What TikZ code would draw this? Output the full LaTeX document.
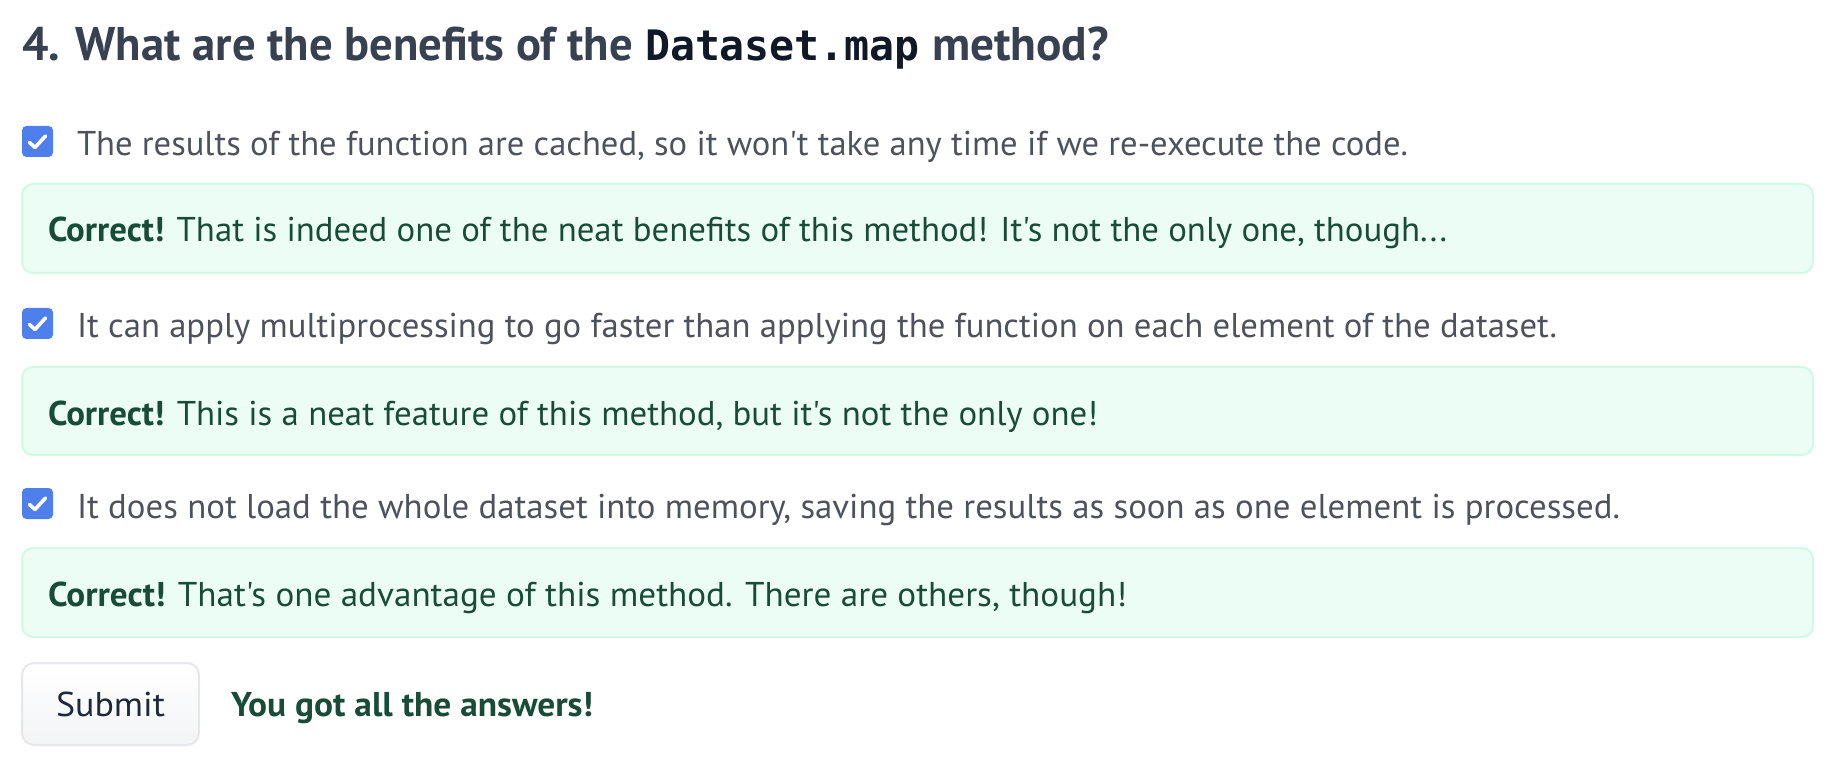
\documentclass[tikz,border=0pt]{standalone}
\usepackage{fontspec}
\usepackage{graphicx}
\setmainfont{PT Sans}[Ligatures=TeXOff]
\newfontfamily\monofam{DejaVu Sans Mono}[Ligatures=TeXOff]
\definecolor{bodygray}{RGB}{78,82,92}
\definecolor{titlegray}{RGB}{55,65,81}
\definecolor{monoink}{RGB}{17,24,39}
\definecolor{fbgreen}{RGB}{24,76,56}
\definecolor{fbfill}{RGB}{236,253,245}
\definecolor{fbborder}{RGB}{209,250,229}
\definecolor{cbblue}{RGB}{78,127,234}
\definecolor{btnborder}{RGB}{229,231,235}
\definecolor{btnfill}{RGB}{243,244,246}
\definecolor{btntext}{RGB}{31,41,55}
\newsavebox\fitbox
% #1 = target width in px (1px = 0.5pt), #2 = text
\newcommand\fitw[2]{\sbox\fitbox{#2}\pgfmathsetmacro\fitfac{#1*0.5/\the\wd\fitbox}\scalebox{\fitfac}[1]{\usebox\fitbox}}
\tikzset{
  txt/.style={anchor=base west, inner sep=0pt, outer sep=0pt},
  bodytxt/.style={txt, text=bodygray, font=\fontsize{17.2}{20}\selectfont},
  fbtxt/.style={txt, text=fbgreen, font=\fontsize{17.2}{20}\selectfont},
  titletxt/.style={txt, text=titlegray, font=\fontsize{23.6}{28}\selectfont\bfseries},
  monotxt/.style={txt, text=monoink, font=\fontsize{21}{26}\selectfont\monofam\bfseries},
  fbbox/.style={draw=fbborder, fill=fbfill, line width=1pt, rounded corners=5.5pt},
  cbbox/.style={fill=cbblue, rounded corners=2.2pt},
  tick/.style={draw=white, line width=1.8pt, line cap=round, line join=round},
  btn/.style={draw=btnborder, top color=white, bottom color=btnfill, line width=1pt, rounded corners=6pt},
}
\newcommand\checkmarkbox[1]{%
  \begin{scope}[shift={(22,#1)}]
    \fill[cbbox] (0,0) rectangle (31,31);
    \draw[tick] (7.5,16.5) -- (13,21.5) -- (23.5,10);
  \end{scope}}
\begin{document}
\begin{tikzpicture}[x=0.5pt, y=-0.5pt]
\useasboundingbox (0,0) rectangle (1832,770);
% title
\node[titletxt] (tA) at (22,61) {\fitw{611}{4. What are the benefits of the}};
\node[monotxt] (tM) at (645,61) {\fitw{275}{Dataset.map}};
\node[titletxt] (tB) at (932,61) {\fitw{177}{method?}};
% item 1
\checkmarkbox{126}
\node[bodytxt] (l1) at (77,156) {\fitw{1331}{The results of the function are cached, so it won't take any time if we re-execute the code.}};
\draw[fbbox] (22,184) rectangle (1813,273);
\node[fbtxt] (f1) at (48,242) {\fitw{1399}{\textbf{Correct!} That is indeed one of the neat benefits of this method! It's not the only one, though...}};
% item 2
\checkmarkbox{308}
\node[bodytxt] (l2) at (77,338) {\fitw{1480}{It can apply multiprocessing to go faster than applying the function on each element of the dataset.}};
\draw[fbbox] (22,367) rectangle (1813,455);
\node[fbtxt] (f2) at (48,425) {\fitw{1050}{\textbf{Correct!} This is a neat feature of this method, but it's not the only one!}};
% item 3
\checkmarkbox{488}
\node[bodytxt] (l3) at (77,518) {\fitw{1543}{It does not load the whole dataset into memory, saving the results as soon as one element is processed.}};
\draw[fbbox] (22,548) rectangle (1813,637);
\node[fbtxt] (f3) at (48,606) {\fitw{1079}{\textbf{Correct!} That's one advantage of this method. There are others, though!}};
% submit
\draw[btn] (22,663) rectangle (199,745);
\node[txt, text=btntext, font=\fontsize{17.2}{20}\selectfont] (sub) at (56,716) {\fitw{109}{Submit}};
\node[fbtxt, font=\fontsize{17.2}{20}\selectfont\bfseries] (msg) at (231,716) {\fitw{362}{You got all the answers!}};
\end{tikzpicture}
\end{document}
